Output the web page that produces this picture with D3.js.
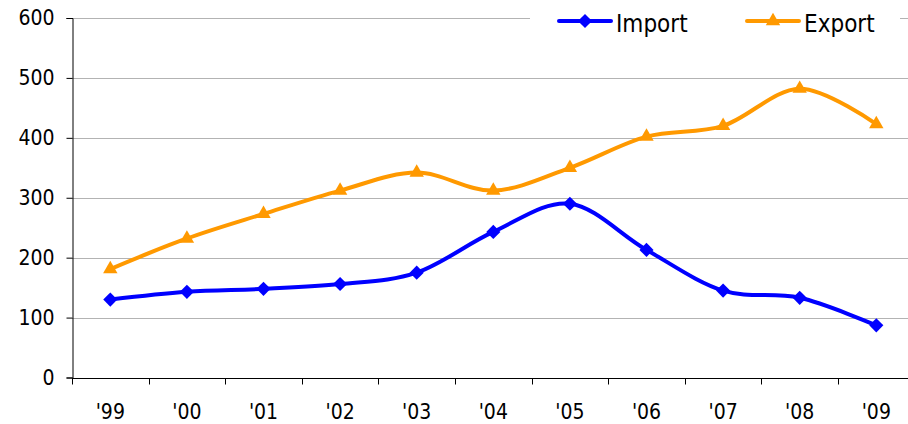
<!DOCTYPE html>
<html>
<head>
    <script src="https://cdnjs.cloudflare.com/ajax/libs/d3/7.8.5/d3.min.js"></script>
    <style>
        body { margin: 0; background: #fff; }
        text { font-family: "DejaVu Sans Condensed", "DejaVu Sans", sans-serif; font-size: 21px; fill: #000; }
        .legend text { font-size: 24px; }
        .grid line { stroke: #b3b3b3; stroke-width: 1px; }
    </style>
</head>
<body>
    <div id="chart"></div>
    <script>
        const years = ["'99", "'00", "'01", "'02", "'03", "'04", "'05", "'06", "'07", "'08", "'09"];
        const importVals = [130, 143, 148, 156, 175, 243, 290, 213, 145, 133, 87];
        const exportVals = [181, 232, 273, 312, 342, 312, 350, 402, 420, 482, 423];
        const yTicks = [0, 100, 200, 300, 400, 500, 600];

        const width = 908, height = 424;
        const plotLeft = 72, plotRight = 914.6, plotTop = 18, plotBottom = 377.5;

        const svg = d3.select("#chart").append("svg")
            .attr("width", width).attr("height", height);

        const x = d3.scaleBand().domain(years).range([plotLeft, plotRight]);
        const y = d3.scaleLinear().domain([0, 600]).range([plotBottom, plotTop]);

        // gridlines
        svg.append("g").attr("class", "grid")
            .selectAll("line")
            .data(yTicks.filter(d => d > 0))
            .enter().append("line")
            .attr("x1", plotLeft).attr("x2", width)
            .attr("y1", d => Math.round(y(d)) + 0.5)
            .attr("y2", d => Math.round(y(d)) + 0.5);

        // y axis
        const yAxis = svg.append("g")
            .attr("transform", `translate(${plotLeft + 0.5},0)`)
            .call(d3.axisLeft(y).tickValues(yTicks).tickSize(6).tickPadding(12));
        yAxis.select(".domain").attr("stroke", "#000");
        yAxis.selectAll(".tick line").attr("stroke", "#000");
        yAxis.selectAll("text").attr("font-family", null);

        // x axis
        const xAxis = svg.append("g")
            .attr("transform", `translate(0,${Math.round(plotBottom) + 0.5})`);
        xAxis.append("line")
            .attr("x1", plotLeft).attr("x2", width)
            .attr("stroke", "#000");
        xAxis.selectAll("line.tk")
            .data(years.concat(["end"]))
            .enter().append("line")
            .attr("class", "tk")
            .attr("x1", (d, i) => Math.round(plotLeft + i * x.step()) + 0.5)
            .attr("x2", (d, i) => Math.round(plotLeft + i * x.step()) + 0.5)
            .attr("y1", 0).attr("y2", 6)
            .attr("stroke", "#000");
        xAxis.selectAll("text")
            .data(years)
            .enter().append("text")
            .attr("x", d => x(d) + x.bandwidth() / 2)
            .attr("y", 40.5)
            .attr("text-anchor", "middle")
            .text(d => d);

        const cx = (d, i) => x(years[i]) + x.bandwidth() / 2;
        const line = d3.line()
            .x(cx)
            .y(d => y(d))
            .curve(d3.curveCatmullRom.alpha(0));

        const series = [
            { name: "Import", values: importVals, color: "#0000ff" },
            { name: "Export", values: exportVals, color: "#ff9900" }
        ];
        const marker = name => name === "Import"
            ? { d: d3.symbol().type(d3.symbolSquare).size(100)(), rot: " rotate(45)" }
            : { d: d3.symbol().type(d3.symbolTriangle).size(90)(), rot: "" };

        series.forEach(s => {
            const m = marker(s.name);
            svg.append("path")
                .datum(s.values)
                .attr("fill", "none")
                .attr("stroke", s.color)
                .attr("stroke-width", 4)
                .attr("d", line);
            svg.append("g")
                .selectAll("path")
                .data(s.values)
                .enter().append("path")
                .attr("transform", (d, i) => `translate(${cx(d, i)},${y(d)})` + m.rot)
                .attr("d", m.d)
                .attr("fill", s.color);
        });

        // legend
        const legend = svg.append("g").attr("class", "legend");
        legend.append("rect")
            .attr("x", 530).attr("y", 4).attr("width", 370).attr("height", 38)
            .attr("fill", "#fff");
        const legendPos = [559, 747];
        series.forEach((s, i) => {
            const m = marker(s.name);
            const g = legend.append("g").attr("transform", `translate(${legendPos[i]},21)`);
            g.append("line")
                .attr("x1", 0).attr("x2", 52)
                .attr("stroke", s.color).attr("stroke-width", 4)
                .attr("stroke-linecap", "round");
            g.append("path")
                .attr("transform", "translate(26,0)" + m.rot)
                .attr("d", m.d)
                .attr("fill", s.color);
            g.append("text")
                .attr("x", 57).attr("y", 11)
                .text(s.name);
        });
    </script>
</body>
</html>
